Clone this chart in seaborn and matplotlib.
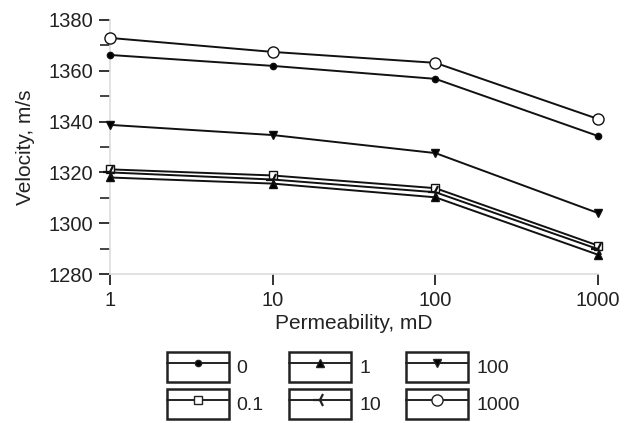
import matplotlib
matplotlib.use("Agg")
import matplotlib.pyplot as plt
import seaborn as sns
import pandas as pd
from matplotlib.patches import Rectangle
from matplotlib.lines import Line2D
from matplotlib.legend_handler import HandlerTuple
from matplotlib.ticker import FixedLocator, NullLocator

permeability = [1, 10, 100, 1000]
series_labels = ["0", "0.1", "1", "10", "100", "1000"]
v_0 = [1366.2, 1361.9, 1356.8, 1334.3]
v_01 = [1321.2, 1318.8, 1313.8, 1291.2]
v_1 = [1318.0, 1315.6, 1310.2, 1287.6]
v_10 = [1320.0, 1317.2, 1312.2, 1289.8]
v_100 = [1338.7, 1334.7, 1327.6, 1304.0]
v_1000 = [1372.9, 1367.4, 1363.1, 1341.0]
values = [v_0, v_01, v_1, v_10, v_100, v_1000]
yticks = [1280, 1300, 1320, 1340, 1360, 1380]
xticks = [1, 10, 100, 1000]
xticklabels = ["1", "10", "100", "1000"]

styles = {
    "0": dict(marker="o", ms=4.5, mfc="black"),
    "0.1": dict(marker="s", ms=6, mfc="white"),
    "1": dict(marker="^", ms=6, mfc="black"),
    "10": dict(marker="3", ms=10, mfc="black", mew=1.6),
    "100": dict(marker="v", ms=6, mfc="black"),
    "1000": dict(marker="o", ms=8, mfc="white"),
}

sns.set_style("white")
plt.rcParams["font.family"] = ["Liberation Sans", "DejaVu Sans"]

fig = plt.figure(figsize=(6.34, 4.23), dpi=100)
ax = fig.add_axes([0.1735, 0.352, 0.77, 0.601])

handles = []
for lab, vals in zip(series_labels, values):
    df = pd.DataFrame({"Permeability": permeability, "Velocity": vals})
    st = styles[lab]
    sns.lineplot(data=df, x="Permeability", y="Velocity", ax=ax, color="#111111",
                 lw=1.4, marker=st["marker"], markersize=st["ms"],
                 markerfacecolor=st["mfc"], markeredgecolor="#111111",
                 markeredgewidth=st.get("mew", 1.0), legend=False, clip_on=False,
                 zorder=3)
    rect = Rectangle((0, 0), 1, 1, facecolor="none", edgecolor="#222222", lw=1.8)
    ln = Line2D([], [], color="#222222", lw=1.4, marker=st["marker"],
                markersize=st["ms"], markerfacecolor=st["mfc"],
                markeredgecolor="#222222", markeredgewidth=st.get("mew", 1.0))
    handles.append((rect, ln))

ax.set_xscale("log")
ax.set_xlim(1, 1000)
ax.set_ylim(1280, 1380)
ax.xaxis.set_major_locator(FixedLocator(xticks))
ax.xaxis.set_minor_locator(NullLocator())
ax.set_xticklabels(xticklabels)
ax.set_yticks(yticks)
ax.set_yticks([1290, 1310, 1330, 1350, 1370], minor=True)
ax.tick_params(axis="both", which="major", direction="out", length=8, width=1.4,
               color="#333333", labelsize=14.5, labelcolor="#222222", pad=4,
               left=True, bottom=True)
ax.tick_params(axis="y", which="minor", direction="out", length=7, width=1.4,
               color="#444444", left=True)
for side in ["top", "right"]:
    ax.spines[side].set_visible(False)
for side in ["left", "bottom"]:
    ax.spines[side].set_color("#dddddd")
    ax.spines[side].set_linewidth(1.2)
ax.set_xlabel("Permeability, mD", fontsize=15, color="#222222", labelpad=3)
ax.set_ylabel("Velocity, m/s", fontsize=15, color="#222222", labelpad=10)

fig.legend(handles, series_labels, handler_map={tuple: HandlerTuple(ndivide=1, pad=0)},
           loc="upper left", bbox_to_anchor=(0.263, 0.168), ncol=3, frameon=False,
           fontsize=14, handlelength=3.2, handleheight=2.0, handletextpad=0.4,
           columnspacing=1.3, labelspacing=0.36, borderpad=0, borderaxespad=0,
           labelcolor="#222222")

fig.savefig("out.png", dpi=100)
